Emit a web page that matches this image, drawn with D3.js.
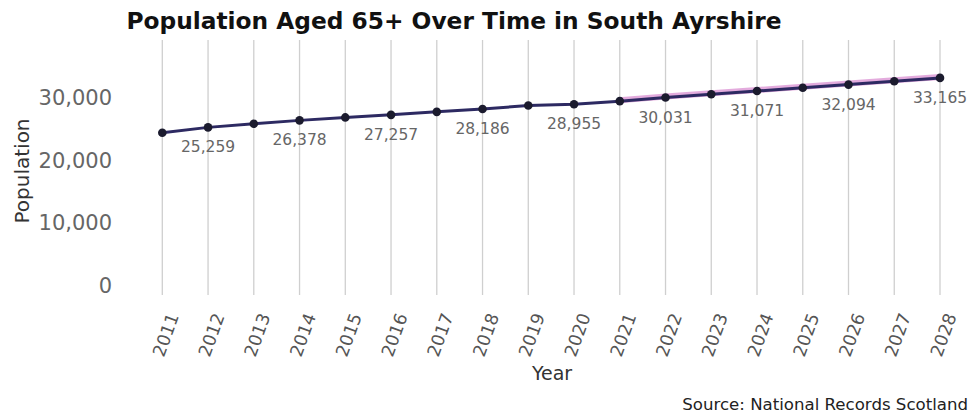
<!DOCTYPE html>
<html><head><meta charset="utf-8">
<script src="https://cdn.jsdelivr.net/npm/d3@7"></script>
<style>body{margin:0;background:#fff}svg{display:block}text{font-family:"DejaVu Sans",sans-serif}</style>
</head><body><svg id="c" width="971" height="414"></svg>
<script>
const years = [2011,2012,2013,2014,2015,2016,2017,2018,2019,2020,2021,2022,2023,2024,2025,2026,2027,2028];
const population = [24400,25259,25850,26378,26850,27257,27740,28186,28750,28955,29450,30031,30560,31071,31580,32094,32630,33165];
const yTicks = [0,10000,20000,30000];
const projectionStart = 2021;
const title = "Population Aged 65+ Over Time in South Ayrshire";
const xLabel = "Year", yLabel = "Population", source = "Source: National Records Scotland";

const svg = d3.select("#c");
const x = d3.scaleLinear().domain([2011,2028]).range([162.3,940]);
const y = d3.scaleLinear().domain([0,30000]).range([285.5,97.7]);
const data = years.map((yr,i)=>({yr,v:population[i],i}));

// vertical grid
svg.append("g").selectAll("line").data(years).join("line")
  .attr("x1",d=>x(d)).attr("x2",d=>x(d)).attr("y1",40).attr("y2",295)
  .attr("stroke","#cfcfcf").attr("stroke-width",1.3);

// y axis
const ya = svg.append("g").attr("transform","translate(125,0)")
  .call(d3.axisLeft(y).tickValues(yTicks).tickSize(0).tickPadding(13).tickFormat(d3.format(",")));
ya.select(".domain").remove();
ya.selectAll("text").attr("font-size",21).attr("fill","#666").attr("font-family","DejaVu Sans");

// x axis
const xa = svg.append("g").attr("transform","translate(0,300)")
  .call(d3.axisBottom(x).tickValues(years).tickSize(0).tickFormat(d3.format("d")));
xa.select(".domain").remove();
xa.selectAll("text").attr("font-size",17.5).attr("fill","#555").attr("font-family","DejaVu Sans")
  .attr("text-anchor","middle").attr("dy",0).attr("y",0)
  .attr("transform","translate(3,35) rotate(-70)").attr("dominant-baseline","central");

const line = d3.line().x(d=>x(d.yr)).y(d=>y(d.v));
const proj = data.filter(d=>d.yr>=projectionStart);
svg.append("path").datum(proj).attr("d",line).attr("fill","none")
  .attr("stroke","#d98fd2").attr("stroke-width",6).attr("stroke-opacity",0.75)
  .attr("transform","translate(0,-1)");
svg.append("path").datum(data).attr("d",line).attr("fill","none")
  .attr("stroke","#2d2a62").attr("stroke-width",3);
svg.append("g").selectAll("circle").data(data).join("circle")
  .attr("cx",d=>x(d.yr)).attr("cy",d=>y(d.v)).attr("r",4.3).attr("fill","#1b1b2e");

svg.append("g").selectAll("text").data(data.filter(d=>d.i%2===1)).join("text")
  .attr("x",d=>x(d.yr)).attr("y",d=>y(d.v)+25).attr("text-anchor","middle")
  .attr("font-size",15.5).attr("fill","#666").text(d=>d3.format(",")(d.v));

svg.append("text").attr("x",454).attr("y",29).attr("text-anchor","middle")
  .attr("font-size",23.3).attr("font-weight","bold").attr("fill","#111").text(title);
svg.append("text").attr("x",552).attr("y",380).attr("text-anchor","middle")
  .attr("font-size",19).attr("fill","#333").text(xLabel);
svg.append("text").attr("transform","translate(29,171) rotate(-90)").attr("text-anchor","middle")
  .attr("font-size",20).attr("fill","#333").text(yLabel);
svg.append("text").attr("x",968).attr("y",410).attr("text-anchor","end")
  .attr("font-size",16.6).attr("fill","#222").text(source);
</script></body></html>
